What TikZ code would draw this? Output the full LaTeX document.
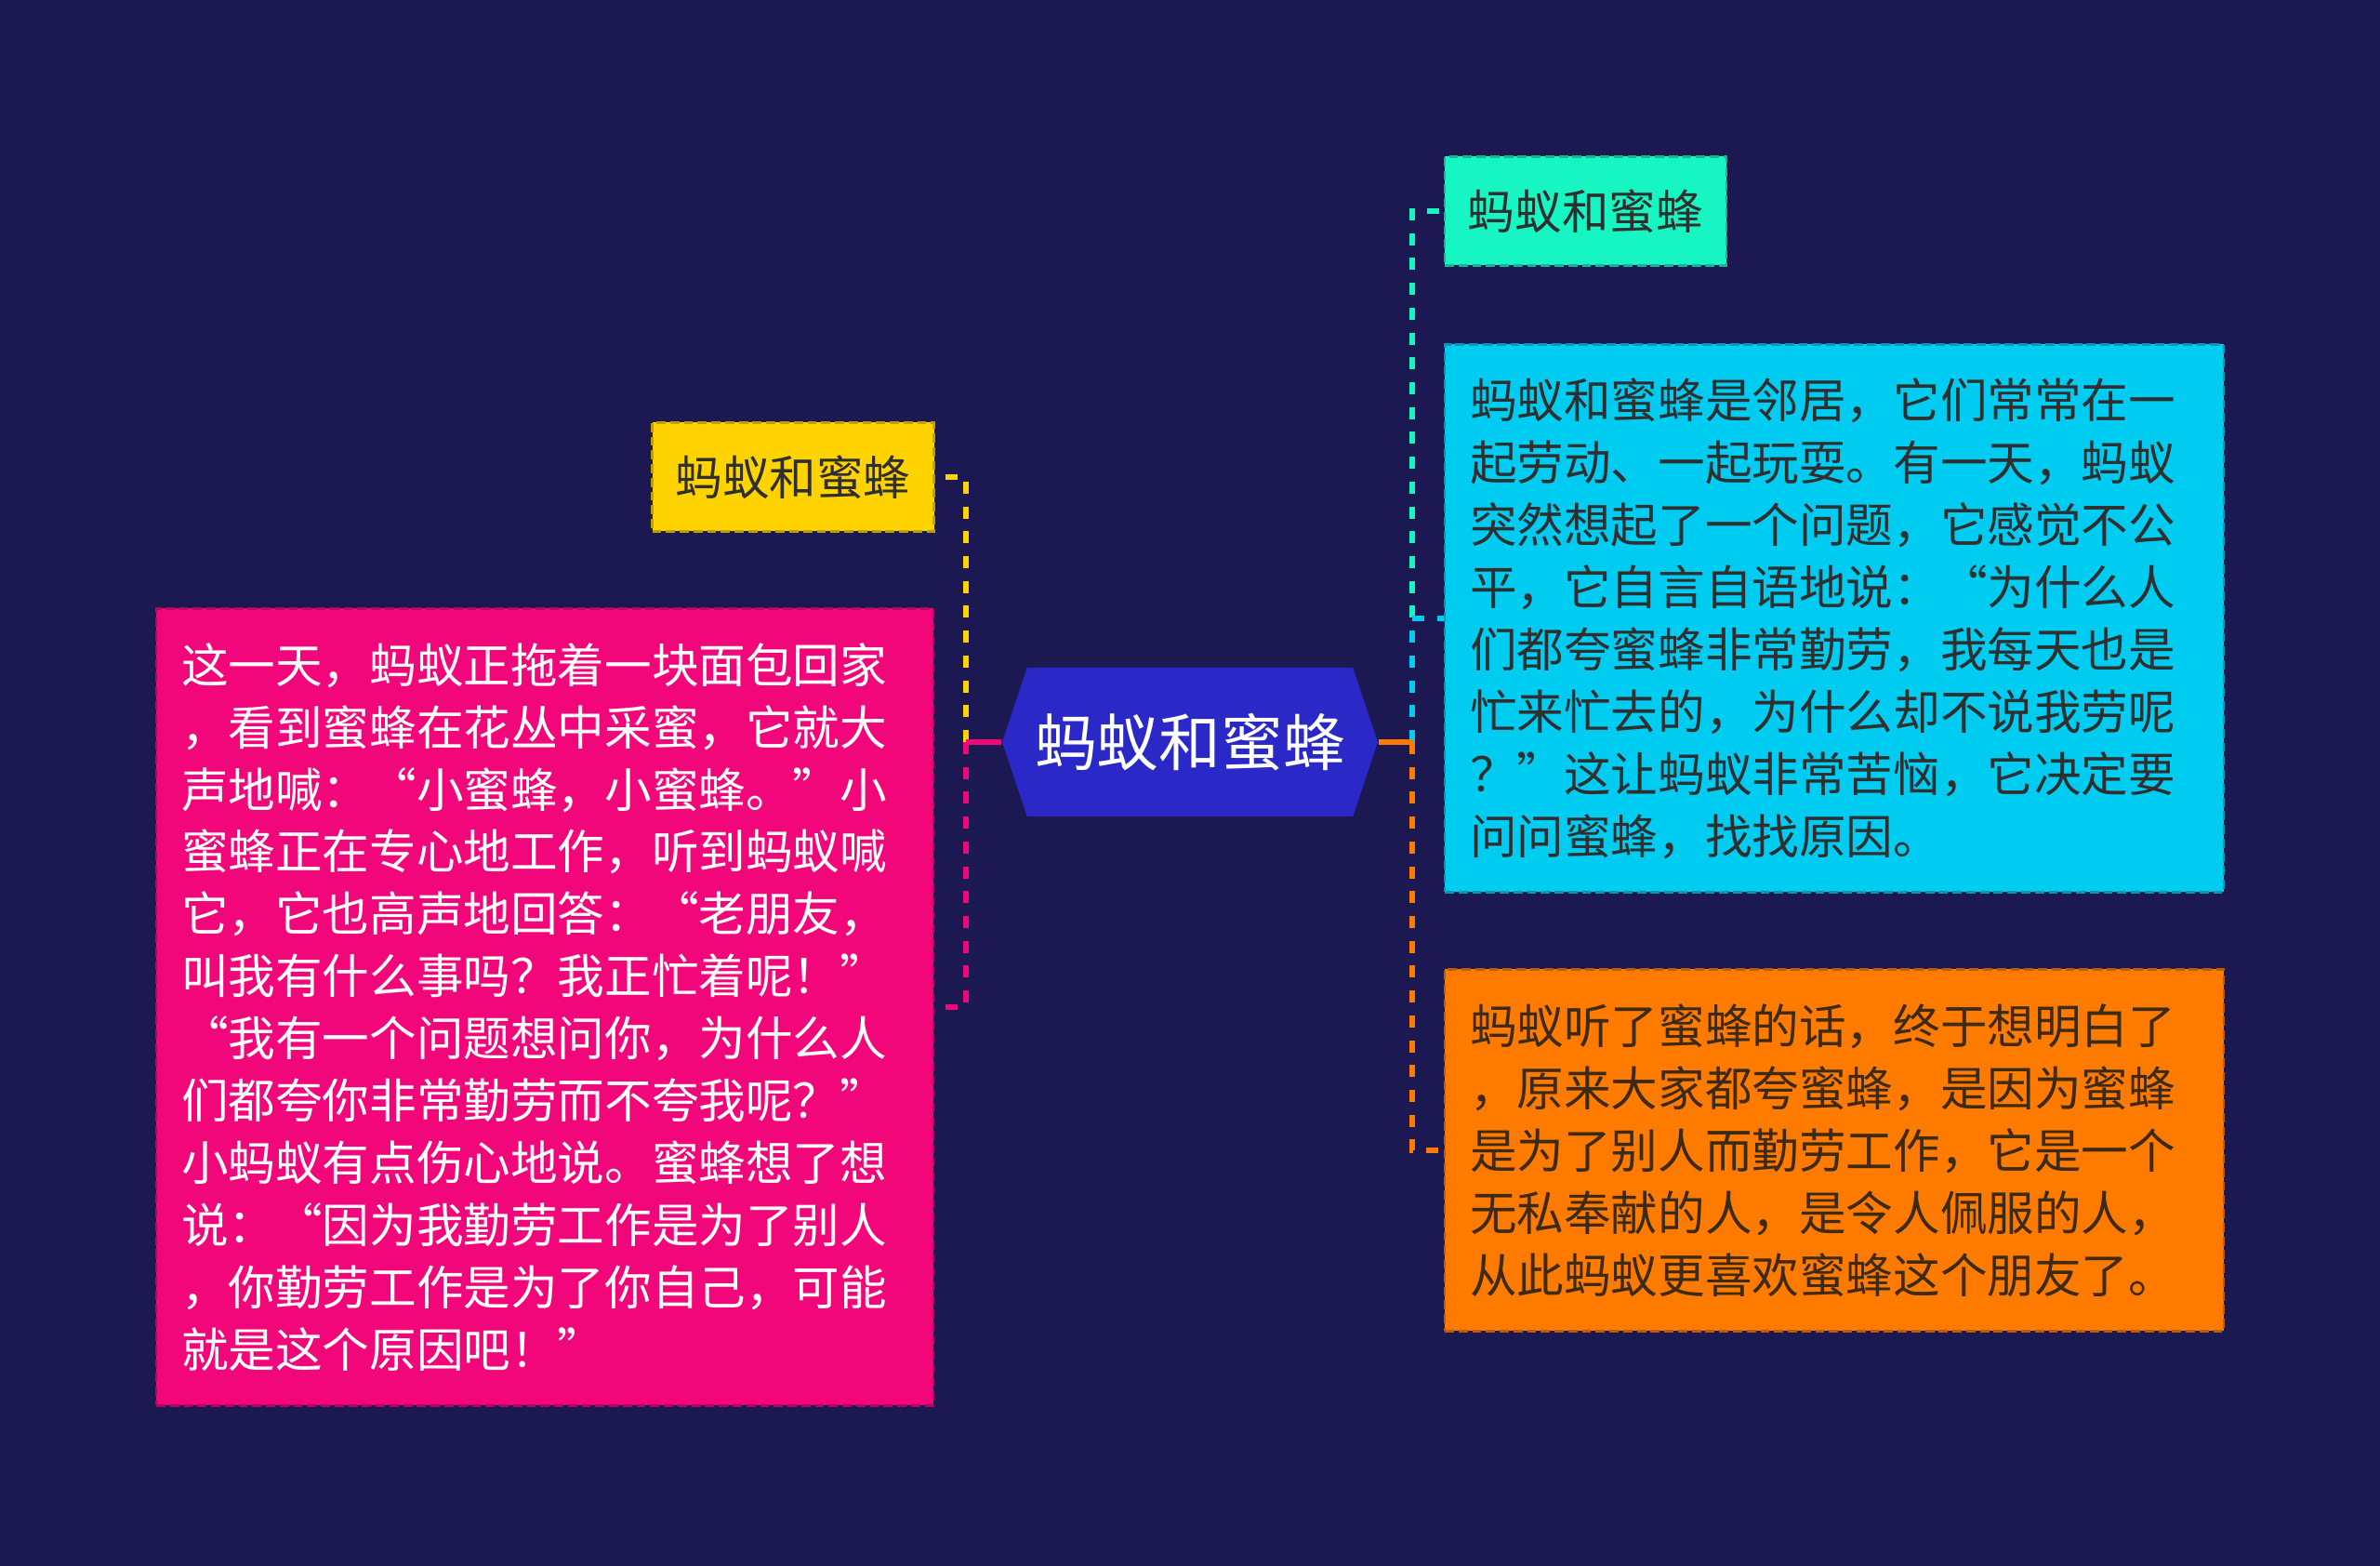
\documentclass[tikz,border=0pt]{standalone}
\usepackage{fontspec}
\newfontfamily\cjk{Noto Sans CJK SC}
\usepackage{xcolor}
\usepackage{tikz}
\usetikzlibrary{positioning,shapes.symbols}
\definecolor{navy}{HTML}{1B1852}
\definecolor{rootbg}{HTML}{2A28C6}
\definecolor{yelbg}{HTML}{FFD300}
\definecolor{tealbg}{HTML}{17F5C3}
\definecolor{cyanbg}{HTML}{00CCF2}
\definecolor{orgbg}{HTML}{FF7B00}
\definecolor{pnkbg}{HTML}{F2077B}
\definecolor{darkink}{HTML}{2F2F2F}
\definecolor{brownink}{HTML}{3C2A12}
\newcommand{\bodyfont}{\cjk\fontsize{14.4pt}{19.05pt}\selectfont}
\tikzset{
  rootnode/.style={signal,signal to=east and west,signal pointer angle=143,fill=rootbg,
    minimum width=4.04cm,minimum height=1.6cm,inner sep=0pt,text=white,
    font=\cjk\fontsize{19pt}{22pt}\selectfont},
  leaf/.style={draw,dash pattern=on 2.8pt off 1.4pt,line width=0.6pt,inner sep=0pt,font=\bodyfont},
  tag/.style={leaf,minimum height=1.17cm,minimum width=3.03cm,align=center},
  story/.style={leaf,inner xsep=0.27cm,align=left},
  branch/.style={line width=1.7pt,dash pattern=on 3.7pt off 3.9pt},
  stub/.style={line width=1.7pt},
}

\begin{document}
\begin{tikzpicture}

% ==== canvas ====
\fill[navy] (0,0) rectangle (25.6,16.84);
\useasboundingbox (0,0) rectangle (25.6,16.84);

% ==== centre topic ====
\node[rootnode] (root) at (12.80,8.86) {蚂蚁和蜜蜂};

% ==== left side ====
\node[tag,fill=yelbg,draw=yelbg!75!black,text=darkink] (yel) at (8.53,11.71) {蚂蚁和蜜蜂};
\node[story,fill=pnkbg,draw=pnkbg!75!black,text=white,text width=7.82cm,minimum height=8.57cm] (pnk) at (5.86,6.01)
  {这一天，蚂蚁正拖着一块面包回家\\
   ，看到蜜蜂在花丛中采蜜，它就大\\
   声地喊：“小蜜蜂，小蜜蜂。”小\\
   蜜蜂正在专心地工作，听到蚂蚁喊\\
   它，它也高声地回答：“老朋友，\\
   叫我有什么事吗？我正忙着呢！”\\
   “我有一个问题想问你，为什么人\\
   们都夸你非常勤劳而不夸我呢？”\\
   小蚂蚁有点伤心地说。蜜蜂想了想\\
   说：“因为我勤劳工作是为了别人\\
   ，你勤劳工作是为了你自己，可能\\
   就是这个原因吧！”};

% ==== right side ====
\node[tag,fill=tealbg,draw=tealbg!75!black,text=darkink] (tl) at (17.055,14.57) {蚂蚁和蜜蜂};
\node[story,fill=cyanbg,draw=cyanbg!75!black,text=darkink,text width=7.84cm,minimum height=5.89cm] (cy) at (19.73,10.19)
  {蚂蚁和蜜蜂是邻居，它们常常在一\\
   起劳动、一起玩耍。有一天，蚂蚁\\
   突然想起了一个问题，它感觉不公\\
   平，它自言自语地说：“为什么人\\
   们都夸蜜蜂非常勤劳，我每天也是\\
   忙来忙去的，为什么却不说我劳呢\\
   ？”这让蚂蚁非常苦恼，它决定要\\
   问问蜜蜂，找找原因。};
\node[story,fill=orgbg,draw=orgbg!75!black,text=brownink,text width=7.84cm,minimum height=3.89cm] (org) at (19.73,4.47)
  {蚂蚁听了蜜蜂的话，终于想明白了\\
   ，原来大家都夸蜜蜂，是因为蜜蜂\\
   是为了别人而勤劳工作，它是一个\\
   无私奉献的人，是令人佩服的人，\\
   从此蚂蚁更喜欢蜜蜂这个朋友了。};

% ==== hubs ====
\coordinate[left=0.38cm of root.west] (lhub);
\coordinate[right=0.36cm of root.east] (rhub);

% ==== connectors ====
\draw[branch,yelbg] (lhub) |- (yel.east);
\draw[branch,pnkbg] (lhub) |- (pnk.east);
\draw[stub,pnkbg] (root.west) -- (lhub);
\draw[branch,tealbg] (rhub) |- (tl.west);
\draw[branch,cyanbg] (rhub) |- (cy.west);
\draw[branch,orgbg] (rhub) |- (org.west);
\draw[stub,orgbg] (root.east) -- (rhub);

\end{tikzpicture}
\end{document}
